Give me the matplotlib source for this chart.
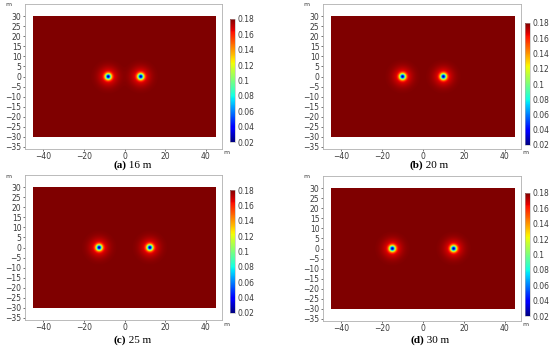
import numpy as np
import matplotlib.pyplot as plt

# panel captions and source spacing (m)
letters = ["a", "b", "c", "d"]
spacings = [16, 20, 25, 30]

# field values
background = 0.18
minimum = 0.02
core_radius = 1.0     # m, inner gaussian
halo_radius = 3.2     # m, weak outer gaussian
halo_share = 0.12

# domain and ticks
domain_x = [-45, 45]
domain_y = [-30, 30]
xticks = [-40, -20, 0, 20, 40]
yticks = list(range(30, -40, -5))
cbar_ticks = [0.02, 0.04, 0.06, 0.08, 0.1, 0.12, 0.14, 0.16, 0.18]

W, H = 550, 346
# (frame left, top, right, bottom), colorbar (left, top, right, bottom), caption baseline (x, y) in px
frames = [(25, 4, 222, 149), (323, 4, 521, 149), (25, 175, 222, 320), (323, 176, 521, 321)]
cbars = [(230, 19, 235, 142), (525, 23, 530, 145), (230, 190, 235, 313), (525, 193, 530, 316)]
captions = [(126, 168), (423, 168), (126, 343), (424, 343)]


def px_rect(l, t, r, b):
    return [l / W, 1 - b / H, (r - l) / W, (b - t) / H]


def field(d):
    x = np.linspace(domain_x[0], domain_x[1], 721)
    y = np.linspace(domain_y[0], domain_y[1], 481)
    X, Y = np.meshgrid(x, y)
    drop = np.zeros_like(X)
    for cx in (-d / 2, d / 2):
        r2 = (X - cx) ** 2 + Y ** 2
        drop += (1 - halo_share) * np.exp(-r2 / (2 * core_radius ** 2)) \
            + halo_share * np.exp(-r2 / (2 * halo_radius ** 2))
    return np.clip(background - (background - minimum) * drop, minimum, background)


fig = plt.figure(figsize=(W / 100, H / 100), dpi=100)
tick_col = "#3a3a3a"
frame_col = "#b0b0b0"

for i, d in enumerate(spacings):
    ax = fig.add_axes(px_rect(*frames[i]))
    im = ax.imshow(field(d), cmap="jet", vmin=minimum, vmax=background, origin="lower",
                   extent=[domain_x[0], domain_x[1], domain_y[0], domain_y[1]],
                   interpolation="bilinear", aspect="auto")
    ax.set_xlim(-49, 48)
    ax.set_ylim(-36, 36)
    ax.set_xticks(xticks)
    ax.set_yticks(yticks)
    ax.tick_params(labelsize=5.5, colors=tick_col, length=1.5, width=0.5, pad=1)
    for s in ax.spines.values():
        s.set_color(frame_col)
        s.set_linewidth(0.6)
    l, t, r, b = frames[i]
    fig.text((l - 20) / W, 1 - (t + 1) / H, "m", fontsize=4.5, color=tick_col, ha="left", va="center")
    fig.text((r + 1) / W, 1 - (b + 4) / H, "m", fontsize=4.5, color=tick_col, ha="left", va="center")

    cax = fig.add_axes(px_rect(*cbars[i]))
    cb = fig.colorbar(im, cax=cax, ticks=cbar_ticks, format="%g")
    cb.outline.set_linewidth(0.4)
    cb.outline.set_edgecolor(frame_col)
    cax.tick_params(labelsize=5.5, colors=tick_col, length=0, pad=2)

    cx, cy = captions[i]
    fig.text(cx / W, 1 - cy / H, f"({letters[i]})", fontsize=8, family="Liberation Serif",
             fontweight="bold", ha="right", va="baseline")
    fig.text(cx / W, 1 - cy / H, f" {d} m", fontsize=8, family="Liberation Serif",
             ha="left", va="baseline")

fig.savefig("out.png", dpi=100)
